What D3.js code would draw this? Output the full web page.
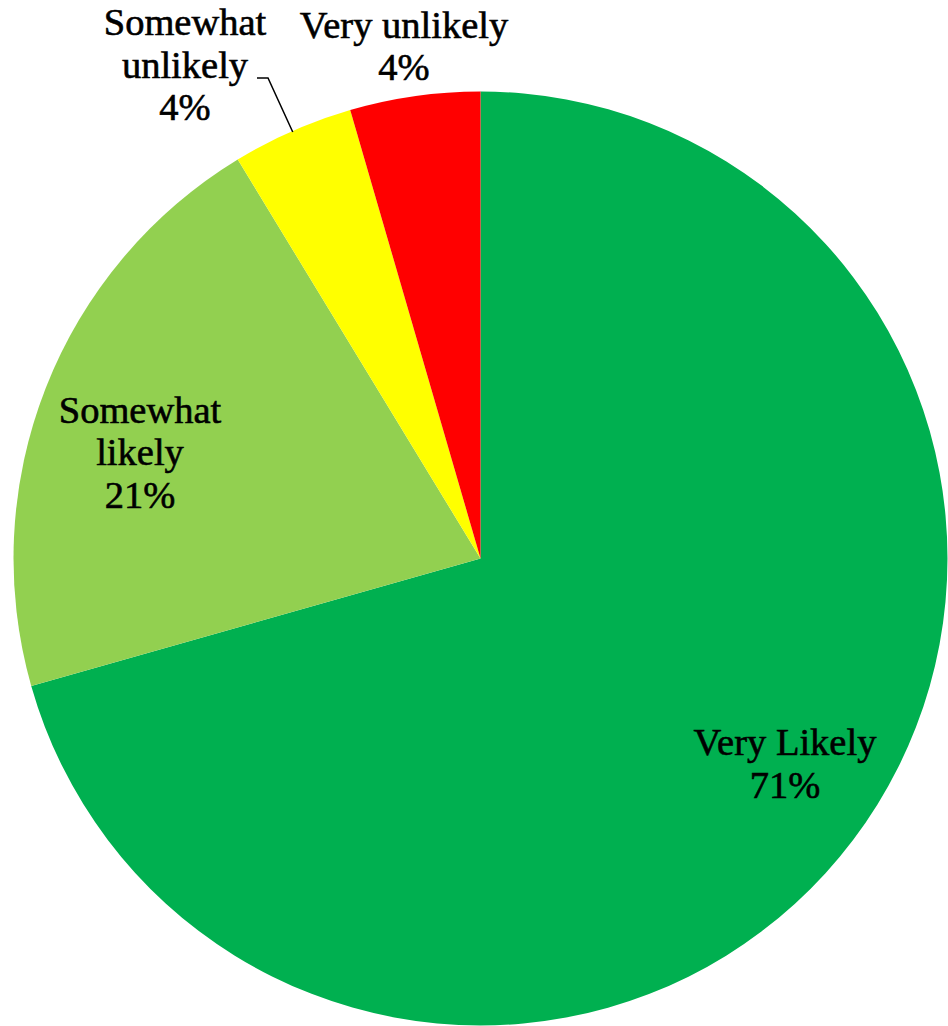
<!DOCTYPE html>
<html>
<head>
<meta charset="utf-8">
<script src="https://cdn.jsdelivr.net/npm/d3@7"></script>
<style>
  html, body { margin: 0; padding: 0; background: #fff; }
  svg { display: block; }
</style>
</head>
<body>
<svg id="chart" width="948" height="1026"></svg>
<script>
// ---- data ----
const categories = ["Very Likely", "Somewhat likely", "Somewhat unlikely", "Very unlikely"];
const values = [70.6, 20.7, 4.2, 4.5];
const percentLabels = ["71%", "21%", "4%", "4%"];
const colors = ["#00B050", "#92D050", "#FFFF00", "#FF0000"];

// ---- layout ----
const width = 948, height = 1026;
const cx = 480.5, cy = 558.5, radius = 467;
const fontSize = 38.5, lineH = 42.5;
// label text-block anchors (x centre, first-line baseline) relative to pie centre
const labelLayout = [
  { dx: 304.5, dy: 196.5, lines: ["Very Likely"] },
  { dx: -340.5, dy: -136, lines: ["Somewhat", "likely"] },
  { dx: -295.5, dy: -523.5, lines: ["Somewhat", "unlikely"] },
  { dx: -76.5, dy: -521, lines: ["Very unlikely"] }
];

const svg = d3.select("#chart");
const g = svg.append("g").attr("transform", `translate(${cx},${cy})`);

const pie = d3.pie().sort(null).value(d => d.value).startAngle(0).endAngle(2 * Math.PI);
const data = categories.map((c, i) => ({ name: c, value: values[i], pct: percentLabels[i], color: colors[i] }));
const arcs = pie(data);
const arc = d3.arc().innerRadius(0).outerRadius(radius);

g.selectAll("path.slice")
  .data(arcs)
  .join("path")
  .attr("class", "slice")
  .attr("d", arc)
  .attr("fill", d => d.data.color);

// leader line for "Somewhat unlikely" (ends on the slice's outer edge, mid-angle)
const su = arcs[2];
const lbl = labelLayout[2];
const tipAngle = (su.startAngle + su.endAngle) / 2;
const tipR = radius - 1;
g.append("polyline")
  .attr("points", [
    [lbl.dx + 72, lbl.dy + 43],
    [lbl.dx + 83, lbl.dy + 43],
    [Math.sin(tipAngle) * tipR, -Math.cos(tipAngle) * tipR]
  ].map(p => p.join(",")).join(" "))
  .attr("fill", "none")
  .attr("stroke", "#000")
  .attr("stroke-width", 1.5);

// labels
arcs.forEach((a, i) => {
  const L = labelLayout[i];
  const t = g.append("text")
    .attr("text-anchor", "middle")
    .attr("font-family", "'Liberation Serif', 'Times New Roman', serif")
    .attr("font-size", fontSize)
    .attr("fill", "#000")
    .attr("stroke", "#000")
    .attr("stroke-width", 0.6);
  const lines = L.lines.concat([a.data.pct]);
  lines.forEach((ln, j) => {
    t.append("tspan")
      .attr("x", L.dx)
      .attr("y", L.dy + j * lineH)
      .text(ln);
  });
});
</script>
</body>
</html>
